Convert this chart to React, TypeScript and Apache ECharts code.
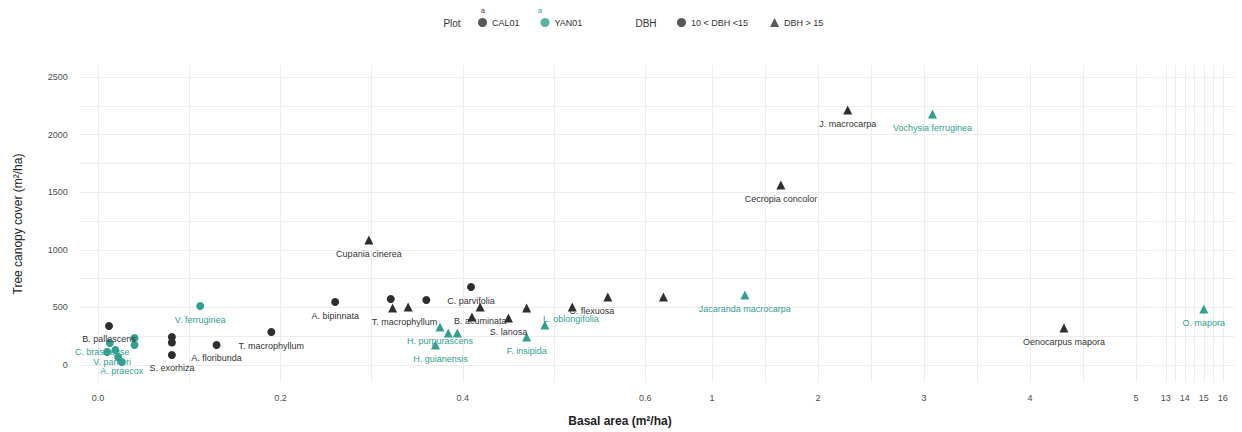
import React, { useEffect, useRef } from 'react';
import * as echarts from 'echarts';

// [basal area (m²/ha), tree canopy cover (m²/ha), species label]
const cal01Small: [number, number, string][] = [
  [0.012, 339, 'B. pallescens'],
  [0.081, 243, ''],
  [0.081, 195, ''],
  [0.081, 87, 'S. exorhiza'],
  [0.13, 174, 'A. floribunda'],
  [0.19, 286, 'T. macrophyllum'],
  [0.26, 547, 'A. bipinnata'],
  [0.321, 573, ''],
  [0.36, 564, ''],
  [0.409, 677, 'C. parvifolia'],
];

const cal01Large: [number, number, string][] = [
  [0.297, 1085, 'Cupania cinerea'],
  [0.323, 495, 'T. macrophyllum '],
  [0.34, 503, ''],
  [0.419, 503, 'B. acuminata'],
  [0.41, 417, ''],
  [0.45, 408, 'S. lanosa'],
  [0.47, 495, ''],
  [0.52, 503, ''],
  [0.559, 590, 'C. flexuosa'],
  [0.62, 590, ''],
  [1.65, 1563, 'Cecropia concolor'],
  [2.28, 2214, 'J. macrocarpa'],
  [4.32, 321, 'Oenocarpus mapora'],
];

const yan01Small: [number, number, string][] = [
  [0.112, 512, 'V. ferruginea'],
  [0.013, 191, ''],
  [0.019, 130, 'C. brasiliense'],
  [0.022, 69, 'V. parkeri'],
  [0.026, 26, 'A. praecox'],
  [0.04, 234, ''],
  [0.04, 174, ''],
  [0.01, 113, ''],
];

const yan01Large: [number, number, string][] = [
  [0.375, 330, 'H. purpurascens'],
  [0.384, 278, ''],
  [0.394, 278, ''],
  [0.37, 174, 'H. guianensis'],
  [0.47, 243, 'F. insipida'],
  [0.49, 347, 'L. oblongifolia'],
  [1.31, 608, 'Jacaranda macrocarpa'],
  [3.08, 2179, 'Vochysia ferruginea'],
  [15.0, 486, 'O. mapora'],
];

const xSegTicks = [
  [0, 0.2, 0.4, 0.6],
  [1, 2, 3, 4, 5],
  [13, 14, 15, 16],
];
const xSegMinor = [
  [0.1, 0.3, 0.5],
  [1.5, 2.5, 3.5, 4.5],
  [13.5, 14.5, 15.5],
];
const xSegRange = [
  [-0.02, 0.65],
  [0.8, 5.2],
  [12.6, 16.6],
];
const yTicks = [0, 500, 1000, 1500, 2000, 2500];
const yMinor = [250, 750, 1250, 1750, 2250];

// layout (pixels)
const GRID_TOP = 65.5;
const GRID_H = 316.8;
const SEG_LEFT = [79.8, 690.8, 1158.2];
const SEG_W = [611, 466.4, 76];

const BLACK = '#2e2e2e';
const TEAL = '#32a08f';
const FONT = 'Liberation Sans, Arial, sans-serif';

const labelOffsets: Record<string, [number, number]> = {
  'T. macrophyllum ': [12, 0],
  'C. flexuosa': [-16, 0],
  'C. brasiliense': [-13, -12],
  'V. parkeri': [-6, -9],
  'A. praecox': [0, -5],
  'L. oblongifolia': [26, -20],
  'H. guianensis': [5, 0],
};

export default function App() {
  const ref = useRef<HTMLDivElement>(null);
  useEffect(() => {
    if (!ref.current) return;
    const chart = echarts.init(ref.current, undefined, { renderer: 'svg' });

    const grids = SEG_LEFT.map((l, i) => ({
      left: l,
      top: GRID_TOP,
      width: SEG_W[i],
      height: GRID_H,
      containLabel: false,
    }));

    const splitStyle = { show: true, lineStyle: { color: '#ededed', width: 1 } };

    const xAxes = xSegRange.map((r, i) => ({
      type: 'value',
      gridIndex: i,
      min: r[0],
      max: r[1],
      axisLine: { show: false },
      axisTick: { show: false, customValues: [...xSegTicks[i], ...xSegMinor[i]] },
      splitLine: splitStyle,
      axisLabel: {
        customValues: xSegTicks[i],
        formatter: (v: number) => (i === 0 ? v.toFixed(1) : String(v)),
        color: '#4d4d4d',
        fontSize: 9,
        fontFamily: FONT,
        margin: 11,
      },
    }));

    const yAxes = xSegRange.map((_, i) => ({
      type: 'value',
      gridIndex: i,
      min: -150,
      max: 2600,
      axisLine: { show: false },
      axisTick: { show: false, customValues: [...yTicks, ...yMinor] },
      splitLine: splitStyle,
      axisLabel: {
        show: i === 0,
        customValues: yTicks,
        formatter: (v: number) => String(v),
        color: '#4d4d4d',
        fontSize: 9,
        fontFamily: FONT,
        margin: 12,
      },
    }));

    const groups = [
      { data: cal01Small, color: BLACK, symbol: 'circle', size: 8 },
      { data: cal01Large, color: BLACK, symbol: 'triangle', size: 9 },
      { data: yan01Small, color: TEAL, symbol: 'circle', size: 8 },
      { data: yan01Large, color: TEAL, symbol: 'triangle', size: 9 },
    ];

    const series: any[] = [];
    groups.forEach((g) => {
      xSegRange.forEach((r, i) => {
        const pts = g.data.filter((p) => p[0] >= r[0] && p[0] <= r[1]);
        if (!pts.length) return;
        series.push({
          type: 'scatter',
          xAxisIndex: i,
          yAxisIndex: i,
          symbol: g.symbol,
          symbolSize: g.size,
          itemStyle: { color: g.color, opacity: 1 },
          clip: false,
          label: {
            show: true,
            position: 'bottom',
            distance: 5,
            fontSize: 9,
            fontFamily: FONT,
            color: g.color === BLACK ? '#333333' : TEAL,
          },
          emphasis: { disabled: true },
          data: pts.map((p) => ({
            value: [p[0], p[1]],
            label: p[2]
              ? { show: true, formatter: p[2].trim(), offset: labelOffsets[p[2]] || [0, 0] }
              : { show: false },
          })),
        });
      });
    });

    // legend-only series
    const legendSeries = [
      { name: 'CAL01', color: BLACK },
      { name: 'YAN01', color: TEAL },
      { name: '10 < DBH <15', color: BLACK },
      { name: 'DBH > 15', color: BLACK },
    ];
    legendSeries.forEach((s) =>
      series.push({
        type: 'scatter',
        name: s.name,
        xAxisIndex: 0,
        yAxisIndex: 0,
        itemStyle: { color: s.color },
        data: [],
      })
    );

    const legendText = { fontSize: 9, color: '#333333', fontFamily: FONT };

    chart.setOption({
      animation: false,
      backgroundColor: '#ffffff',
      grid: grids,
      xAxis: xAxes,
      yAxis: yAxes,
      series,
      legend: [
        {
          left: 478,
          top: 18,
          padding: 0,
          itemWidth: 9,
          itemHeight: 9,
          itemGap: 21,
          selectedMode: false,
          icon: 'circle',
          textStyle: legendText,
          data: ['CAL01', 'YAN01'],
        },
        {
          left: 677,
          top: 18,
          padding: 0,
          itemWidth: 9,
          itemHeight: 9,
          itemGap: 22,
          selectedMode: false,
          textStyle: legendText,
          data: [
            { name: '10 < DBH <15', icon: 'circle' },
            { name: 'DBH > 15', icon: 'triangle' },
          ],
        },
      ],
      graphic: [
        {
          type: 'text',
          x: 452,
          y: 23,
          style: { text: 'Plot', fontSize: 10, fill: '#333333', fontFamily: FONT, align: 'center', verticalAlign: 'middle' },
        },
        {
          type: 'text',
          x: 646,
          y: 23,
          style: { text: 'DBH', fontSize: 10, fill: '#333333', fontFamily: FONT, align: 'center', verticalAlign: 'middle' },
        },
        {
          type: 'text',
          x: 483,
          y: 10,
          style: { text: 'a', fontSize: 7, fill: BLACK, fontFamily: FONT, align: 'center', verticalAlign: 'middle' },
        },
        {
          type: 'text',
          x: 540,
          y: 10,
          style: { text: 'a', fontSize: 7, fill: TEAL, fontFamily: FONT, align: 'center', verticalAlign: 'middle' },
        },
        {
          type: 'text',
          x: 620,
          y: 421,
          style: {
            text: 'Basal area (m²/ha)',
            fontSize: 12,
            fontWeight: 'bold',
            fill: '#222222',
            fontFamily: FONT,
            align: 'center',
            verticalAlign: 'middle',
          },
        },
        {
          type: 'text',
          x: 18,
          y: 224,
          rotation: Math.PI / 2,
          style: {
            text: 'Tree canopy cover (m²/ha)',
            fontSize: 12,
            fill: '#222222',
            fontFamily: FONT,
            align: 'center',
            verticalAlign: 'middle',
          },
        },
      ],
    });

    return () => chart.dispose();
  }, []);

  return (
    <div
      ref={ref}
      style={{ position: 'absolute', left: 0, top: 0, width: 1242, height: 432 }}
    />
  );
}
